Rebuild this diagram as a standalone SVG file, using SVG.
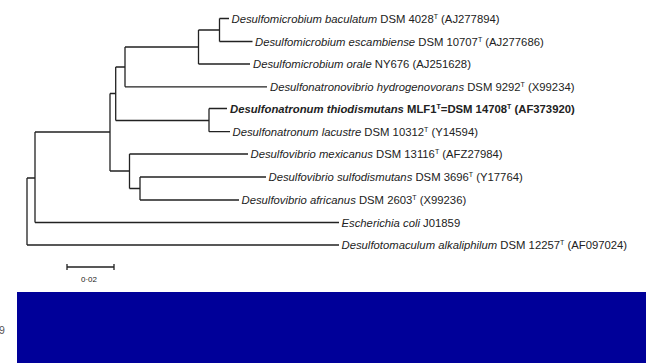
<svg xmlns="http://www.w3.org/2000/svg" width="646" height="363" viewBox="0 0 646 363">
<style>
.t{font-family:"Liberation Sans",Arial,sans-serif;font-size:11.3px;fill:#222}
.b{font-weight:bold}
.i{font-style:italic}
.s{font-size:7px}
.br{fill:none;stroke:#222;stroke-width:1.3}
</style>
<rect width="646" height="363" fill="#fff"/>
<g id="connectors" class="br">
<path d="M219.5,18.5V41.5M219.5,18.5H229M219.5,41.5H252.5"/>
<path d="M198.5,30H219.5M198.5,30V64M198.5,64H250"/>
<path d="M125,47H198.5M125,47V86.8M125,86.8H267"/>
<path d="M209,108.5V131.7M209,108.5H227M209,131.7H230"/>
<path d="M115.7,67H125M115.7,67V120.5M115.7,120.5H209"/>
<path d="M140,177V200M140,177H266M140,200H239"/>
<path d="M129.5,154V188.5M129.5,154H248M129.5,188.5H140"/>
<path d="M110,93.5H115.7M110,93.5V171M110,171H129.5"/>
<path d="M35,132H110M35,132V222.5M35,222.5H339"/>
<path d="M27,178H35M27,178V245M27,245H339"/>
</g>
<g id="leaf1"><text class="t" x="231.5" y="22.5"><tspan class="i">Desulfomicrobium baculatum</tspan> DSM 4028<tspan class="s" dy="-4">T</tspan><tspan dy="4"> (AJ277894)</tspan></text></g>
<g id="leaf2"><text class="t" x="255" y="45.5"><tspan class="i">Desulfomicrobium escambiense</tspan> DSM 10707<tspan class="s" dy="-4">T</tspan><tspan dy="4"> (AJ277686)</tspan></text></g>
<g id="leaf3"><text class="t" x="253" y="68"><tspan class="i">Desulfomicrobium orale</tspan> NY676 (AJ251628)</text></g>
<g id="leaf4"><text class="t" x="270" y="90.8"><tspan class="i">Desulfonatronovibrio hydrogenovorans</tspan> DSM 9292<tspan class="s" dy="-4">T</tspan><tspan dy="4"> (X99234)</tspan></text></g>
<g id="leaf5"><text class="t b" x="230" y="112.5"><tspan class="i">Desulfonatronum thiodismutans</tspan> MLF1<tspan class="s" dy="-4">T</tspan><tspan dy="4">=DSM 14708</tspan><tspan class="s" dy="-4">T</tspan><tspan dy="4"> (AF373920)</tspan></text></g>
<g id="leaf6"><text class="t" x="232.5" y="135.7"><tspan class="i">Desulfonatronum lacustre</tspan> DSM 10312<tspan class="s" dy="-4">T</tspan><tspan dy="4"> (Y14594)</tspan></text></g>
<g id="leaf7"><text class="t" x="250.5" y="158"><tspan class="i">Desulfovibrio mexicanus</tspan> DSM 13116<tspan class="s" dy="-4">T</tspan><tspan dy="4"> (AFZ27984)</tspan></text></g>
<g id="leaf8"><text class="t" x="268.5" y="181"><tspan class="i">Desulfovibrio sulfodismutans</tspan> DSM 3696<tspan class="s" dy="-4">T</tspan><tspan dy="4"> (Y17764)</tspan></text></g>
<g id="leaf9"><text class="t" x="241.5" y="204"><tspan class="i">Desulfovibrio africanus</tspan> DSM 2603<tspan class="s" dy="-4">T</tspan><tspan dy="4"> (X99236)</tspan></text></g>
<g id="leaf10"><text class="t" x="341.5" y="226.5"><tspan class="i">Escherichia coli</tspan> J01859</text></g>
<g id="leaf11"><text class="t" x="341.5" y="249"><tspan class="i">Desulfotomaculum alkaliphilum</tspan> DSM 12257<tspan class="s" dy="-4">T</tspan><tspan dy="4"> (AF097024)</tspan></text></g>
<g id="scalebar">
<path class="br" d="M67,267H114M67,264V270M114,264V270"/>
<text class="t" x="89" y="282" text-anchor="middle" style="font-size:8px">0·02</text>
</g>
<text x="-1" y="334" style="font-family:'Liberation Sans',Arial,sans-serif;font-size:10.5px;fill:#555">9</text>
<rect x="17" y="292" width="629" height="71" fill="#000099"/>
</svg>
